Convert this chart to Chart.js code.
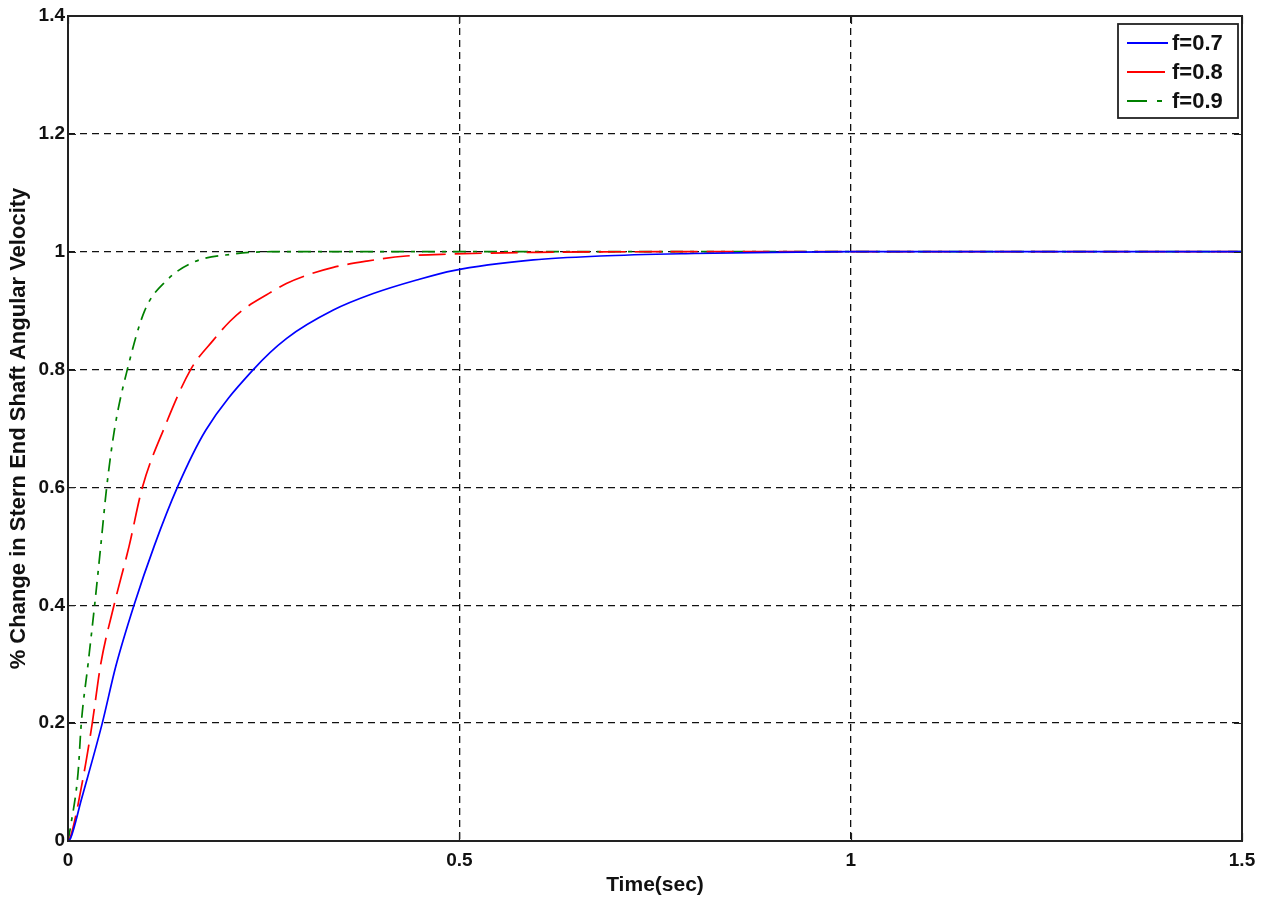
<!DOCTYPE html>
<html>
<head>
<meta charset="utf-8">
<script src="https://cdn.jsdelivr.net/npm/chart.js@4.4.1/dist/chart.umd.min.js"></script>
<style>
html,body{margin:0;padding:0;background:#fff;}
#wrap{width:1268px;height:900px;position:relative;}
</style>
</head>
<body>
<div id="wrap"><canvas id="c" width="1268" height="900"></canvas></div>
<script>
const seriesNames = ["f=0.7", "f=0.8", "f=0.9"];
const tBlue = [0, 0.0034, 0.017, 0.0438, 0.061, 0.0843, 0.11, 0.1397, 0.176, 0.2368, 0.2794, 0.339, 0.39, 0.4455, 0.4923, 0.5946, 0.68, 0.8, 0.9, 1.0, 1.2, 1.5];
const vBlue = [0, 0.005, 0.07, 0.2, 0.296, 0.4, 0.5, 0.6, 0.697, 0.8, 0.853, 0.901, 0.929, 0.952, 0.968, 0.986, 0.9927, 0.997, 0.999, 1, 1, 1];
const tRed = [0, 0.0034, 0.0204, 0.031, 0.0418, 0.0588, 0.078, 0.095, 0.1227, 0.1567, 0.1857, 0.207, 0.224, 0.2538, 0.279, 0.305, 0.339, 0.3816, 0.432, 0.49, 0.6, 0.8, 1.5];
const vRed = [0, 0.008, 0.115, 0.2, 0.3, 0.4, 0.5, 0.6, 0.7, 0.8, 0.85, 0.882, 0.902, 0.927, 0.946, 0.96, 0.9735, 0.984, 0.9927, 0.996, 0.999, 1, 1];
const tGreen = [0, 0.004, 0.0128, 0.017, 0.0256, 0.034, 0.0418, 0.0494, 0.0596, 0.0758, 0.098, 0.125, 0.16, 0.2112, 0.26, 0.6, 1.0, 1.5];
const vGreen = [0, 0.03, 0.115, 0.2, 0.3, 0.4, 0.5, 0.6, 0.7, 0.8, 0.9, 0.95, 0.982, 0.996, 1, 1, 1, 1];
const xTickLabels = ["0", "0.5", "1", "1.5"];
const yTickLabels = ["0", "0.2", "0.4", "0.6", "0.8", "1", "1.2", "1.4"];
const xTitle = "Time(sec)";
const yTitle = "% Change in Stern End Shaft Angular Velocity";

const toPts = (t, v) => t.map((x, i) => ({x: x, y: v[i]}));
const FONT = "'Liberation Sans', Arial, sans-serif";

const frameLegend = {
  id: 'frameLegend',
  afterDatasetsDraw(chart) {
    const ctx = chart.ctx, a = chart.chartArea;
    ctx.save();
    ctx.setLineDash([]);
    ctx.strokeStyle = '#222';
    ctx.lineWidth = 2;
    ctx.strokeRect(a.left, a.top, a.right - a.left, a.bottom - a.top);
    ctx.lineWidth = 1.2;
    const xs = chart.scales.x, ys = chart.scales.y, L = 8;
    xs.ticks.forEach(tk => {
      const px = Math.round(xs.getPixelForValue(tk.value)) + 0.5;
      ctx.beginPath(); ctx.moveTo(px, a.bottom); ctx.lineTo(px, a.bottom - L);
      ctx.moveTo(px, a.top); ctx.lineTo(px, a.top + L); ctx.stroke();
    });
    ys.ticks.forEach(tk => {
      const py = Math.round(ys.getPixelForValue(tk.value)) + 0.5;
      ctx.beginPath(); ctx.moveTo(a.left, py); ctx.lineTo(a.left + L, py);
      ctx.moveTo(a.right, py); ctx.lineTo(a.right - L, py); ctx.stroke();
    });
    // legend box
    const bx = 1118, by = 24, bw = 120, bh = 94;
    ctx.fillStyle = '#fff';
    ctx.fillRect(bx, by, bw, bh);
    ctx.strokeStyle = '#222';
    ctx.lineWidth = 1.8;
    ctx.strokeRect(bx, by, bw, bh);
    const rows = [43, 72, 101];
    const legendDash = [[], [38, 12], [20, 10, 5, 10]];
    chart.data.datasets.forEach((ds, i) => {
      const y = rows[i];
      ctx.strokeStyle = ds.borderColor;
      ctx.lineWidth = 2;
      ctx.setLineDash(legendDash[i]);
      ctx.beginPath(); ctx.moveTo(1127, y); ctx.lineTo(1168, y); ctx.stroke();
      ctx.setLineDash([]);
      ctx.fillStyle = '#111';
      ctx.font = "bold 22px " + FONT;
      ctx.textAlign = 'left';
      ctx.textBaseline = 'middle';
      ctx.fillText(ds.label, 1172, y + 1);
    });
    ctx.restore();
  }
};

new Chart(document.getElementById('c'), {
  type: 'line',
  data: {
    datasets: [
      {label: seriesNames[0], data: toPts(tBlue, vBlue), borderColor: '#0000ff', borderWidth: 1.7, pointRadius: 0, cubicInterpolationMode: 'monotone', fill: false},
      {label: seriesNames[1], data: toPts(tRed, vRed), borderColor: '#ff0000', borderWidth: 1.7, borderDash: [27, 9], pointRadius: 0, cubicInterpolationMode: 'monotone', fill: false},
      {label: seriesNames[2], data: toPts(tGreen, vGreen), borderColor: '#008000', borderWidth: 1.7, borderDash: [13, 7, 4, 7], pointRadius: 0, cubicInterpolationMode: 'monotone', fill: false}
    ]
  },
  options: {
    responsive: false,
    animation: false,
    layout: {autoPadding: false, padding: {left: 0, right: 26, top: 16, bottom: 0}},
    plugins: {legend: {display: false}, tooltip: {enabled: false}},
    scales: {
      x: {
        type: 'linear', min: 0, max: 1.5,
        afterFit: s => { s.height = 59; },
        grid: {color: '#111', lineWidth: 1.3, drawTicks: false},
        border: {display: false, dash: [7, 5]},
        ticks: {stepSize: 0.5, padding: 8, color: '#111', font: {family: FONT, size: 19, weight: 'bold'},
          callback: (v) => { const i = Math.round(v / 0.5); return xTickLabels[i] !== undefined ? xTickLabels[i] : ''; }},
        title: {display: true, text: xTitle, color: '#111', font: {family: FONT, size: 21, weight: 'bold'}, padding: {top: 0, bottom: 2}}
      },
      y: {
        type: 'linear', min: 0, max: 1.4,
        afterFit: s => { s.width = 68; },
        grid: {color: '#111', lineWidth: 1.3, drawTicks: false},
        border: {display: false, dash: [7, 5]},
        ticks: {stepSize: 0.2, padding: 3, color: '#111', font: {family: FONT, size: 19, weight: 'bold'},
          callback: (v) => { const i = Math.round(v / 0.2); return yTickLabels[i] !== undefined ? yTickLabels[i] : ''; }},
        title: {display: true, text: yTitle, color: '#111', font: {family: FONT, size: 22, weight: 'bold'}, padding: {top: 6, bottom: 0}}
      }
    }
  },
  plugins: [frameLegend]
});
</script>
</body>
</html>
